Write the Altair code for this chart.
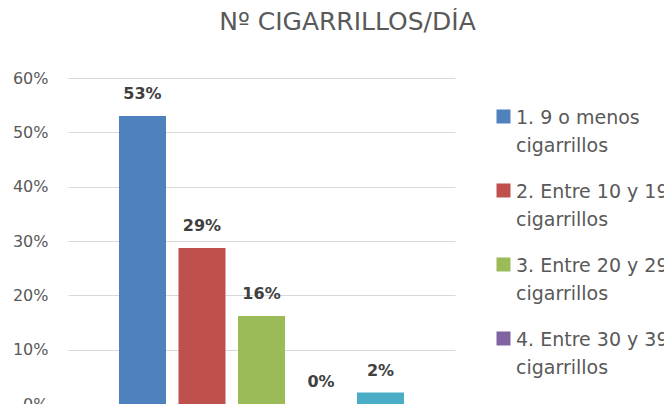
import altair as alt
import pandas as pd

categorias = [
    "1. 9 o menos cigarrillos",
    "2. Entre 10 y 19 cigarrillos",
    "3. Entre 20 y 29 cigarrillos",
    "4. Entre 30 y 39 cigarrillos",
    "5. 40 o más cigarrillos",
]
porcentajes = [0.53, 0.287, 0.162, 0.0, 0.021]
colores = ["#4F81BD", "#C0504D", "#9BBB59", "#8064A2", "#4BACC6"]
ticks_y = [0, 0.1, 0.2, 0.3, 0.4, 0.5, 0.6]
titulo = "Nº CIGARRILLOS/DÍA"

df = pd.DataFrame({"categoria": categorias, "valor": porcentajes})

FONT = "DejaVu Sans"
GRIS = "#595959"

x = alt.X("categoria:N", sort=categorias, axis=None,
          scale=alt.Scale(paddingInner=0.21, paddingOuter=0.857))
y = alt.Y("valor:Q", scale=alt.Scale(domain=[0, 0.6]),
          axis=alt.Axis(values=ticks_y, format=".0%", title=None, domain=False,
                        ticks=False, labelFont=FONT, labelFontSize=16,
                        labelColor=GRIS, labelPadding=20,
                        gridColor="#D9D9D9", gridWidth=1))

bars = alt.Chart(df).mark_bar().encode(
    x=x,
    y=y,
    color=alt.Color(
        "categoria:N", sort=categorias,
        scale=alt.Scale(domain=categorias, range=colores),
        legend=alt.Legend(
            title=None, orient="none", legendX=426, legendY=21,
            labelExpr="split(replace(datum.label, ' cigarrillos', '|cigarrillos'), '|')",
            labelFont=FONT, labelFontSize=19, labelColor=GRIS,
            labelBaseline="top", labelOffset=3, labelLimit=400,
            symbolType="M-1,0.14H1V2.14H-1Z", symbolSize=196,
            symbolStrokeWidth=0, rowPadding=17, padding=0,
        ),
    ),
)

labels = alt.Chart(df).mark_text(
    font=FONT, fontSize=16, fontWeight="bold", color="#404040",
    baseline="alphabetic", dy=-17,
).encode(x=x, y=y, text=alt.Text("valor:Q", format=".0%"))

chart = alt.layer(bars, labels).properties(
    width=387,
    height=326,
    title=alt.TitleParams(
        titulo, font=FONT, fontSize=25, fontWeight="normal", color=GRIS,
        anchor="middle", frame="group", dx=86, offset=15, baseline="alphabetic",
    ),
    autosize=alt.AutoSizeParams(type="none"),
    padding={"left": 60, "top": 70, "right": 209, "bottom": 0},
).configure(
    style={"guide-label": {"lineHeight": 28}},
    view=alt.ViewConfig(stroke=None),
)

chart.save("out.html", embed_options={"renderer": "svg", "actions": False})
